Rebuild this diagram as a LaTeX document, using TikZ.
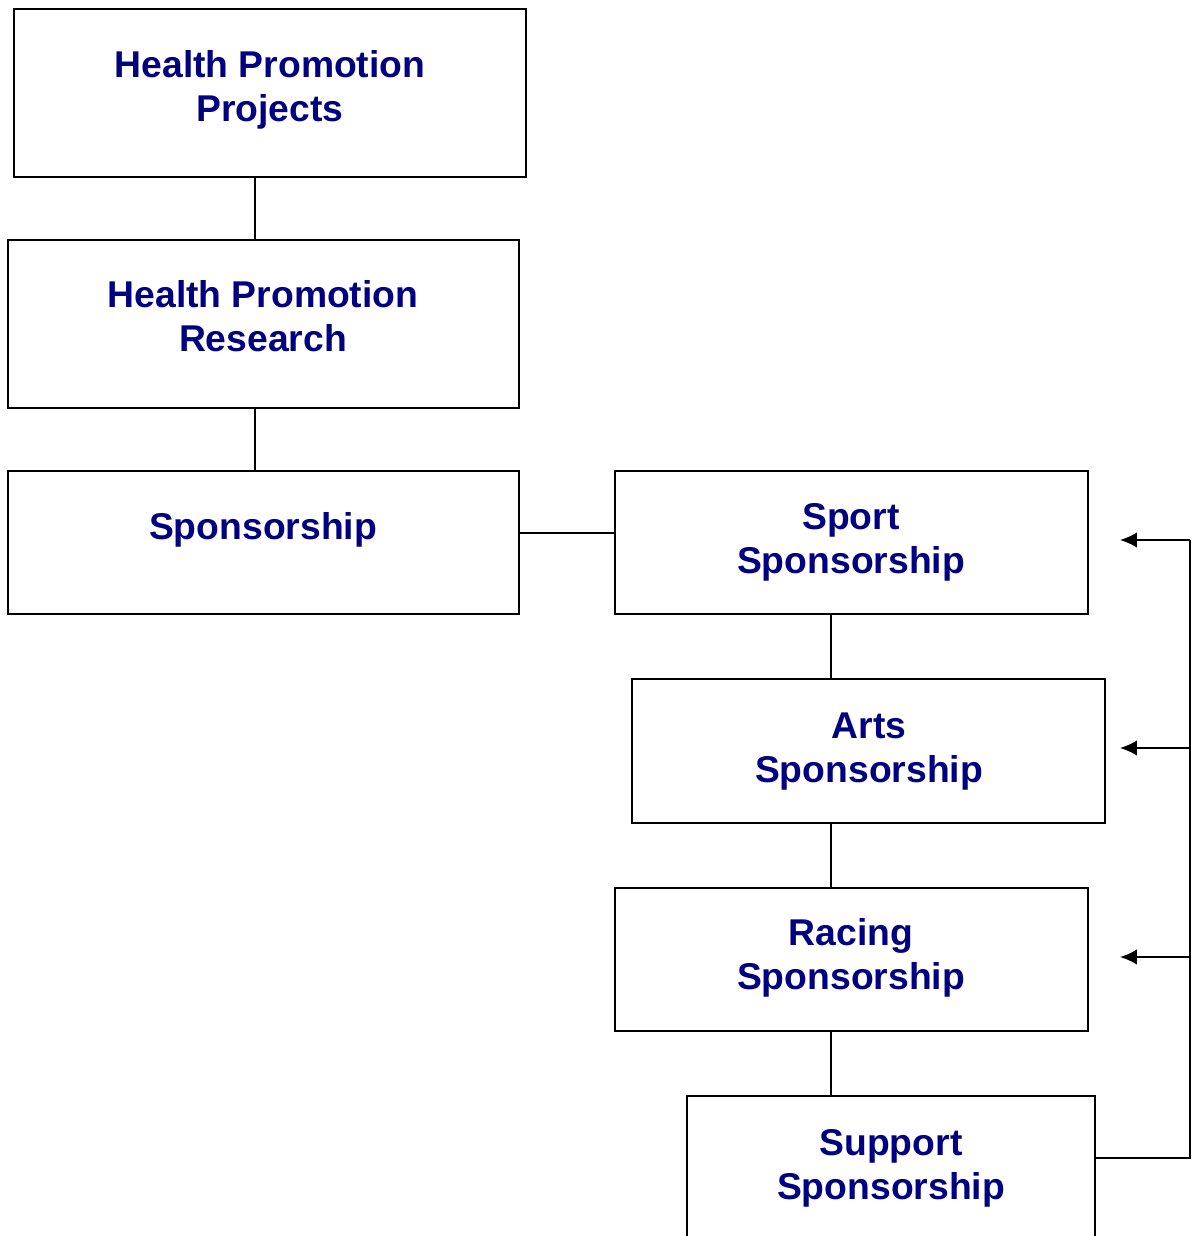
\documentclass[tikz,border=0pt]{standalone}
\usepackage{fontspec}
\setmainfont{Liberation Sans}
\usetikzlibrary{arrows.meta}
\definecolor{navytext}{RGB}{0,0,128}

\begin{document}
\begin{tikzpicture}[x=0.01cm,y=-0.01cm,
    box/.style={draw,line width=0.6pt,inner sep=0pt},
    lbl/.style={anchor=base,align=center,text=navytext,
      font=\fontsize{10.6}{12.5}\selectfont\bfseries},
    link/.style={line width=0.6pt},
    back/.style={line width=0.6pt,-{Latex[length=4.8pt,width=4.4pt]}}]
    \useasboundingbox (0,0) rectangle (1192,1236);
    \clip (0,0) rectangle (1192,1236);
    % left column
    \node[box,minimum width=5.12cm,minimum height=1.68cm] (projects) at (270,93) {};
    \node[box,minimum width=5.11cm,minimum height=1.68cm] (research) at (263.5,324) {};
    \node[box,minimum width=5.11cm,minimum height=1.43cm] (spons) at (263.5,542.5) {};
    \node[lbl] (projectstxt) at (270,121.5) {Health Promotion\\Projects};
    \node[lbl] (researchtxt) at (263,351.5) {Health Promotion\\Research};
    \node[lbl] (sponstxt) at (263,539) {Sponsorship};
    % right column
    \node[box,minimum width=4.73cm,minimum height=1.43cm] (sport) at (851.5,542.5) {};
    \node[box,minimum width=4.73cm,minimum height=1.44cm] (arts) at (868.5,751) {};
    \node[box,minimum width=4.73cm,minimum height=1.43cm] (racing) at (851.5,959.5) {};
    \node[box,minimum width=4.08cm,minimum height=1.43cm] (support) at (891,1167.5) {};
    \node[lbl] (sporttxt) at (851,573) {Sport\\Sponsorship};
    \node[lbl] (artstxt) at (869,782) {Arts\\Sponsorship};
    \node[lbl] (racingtxt) at (851,989) {Racing\\Sponsorship};
    \node[lbl] (supporttxt) at (891,1199) {Support\\Sponsorship};
    % links
    \draw[link] ([xshift=-0.15cm]projects.south) -- ([xshift=-0.15cm]projects.south |- research.north);
    \draw[link] ([xshift=-0.085cm]research.south) -- ([xshift=-0.085cm]research.south |- spons.north);
    \draw[link] ([yshift=0.095cm]spons.east) -- ([yshift=0.095cm]spons.east -| sport.west);
    \draw[link] ([xshift=-0.205cm]sport.south) -- ([xshift=-0.205cm]sport.south |- arts.north);
    \draw[link] ([xshift=-0.375cm]arts.south) -- ([xshift=-0.375cm]arts.south |- racing.north);
    \draw[link] ([xshift=-0.205cm]racing.south) -- ([xshift=-0.205cm]racing.south |- support.north);
    % feedback rail
    \coordinate (railtop) at (1190,540);
    \coordinate (sporttip) at (1120,540);
    \coordinate (artstip) at (1120,748);
    \coordinate (racingtip) at (1120,957);
    \draw[link] ([yshift=0.095cm]support.east) -| (railtop);
    \draw[back] (railtop) -- (sporttip);
    \draw[back] (railtop |- artstip) -- (artstip);
    \draw[back] (railtop |- racingtip) -- (racingtip);
\end{tikzpicture}
\end{document}
